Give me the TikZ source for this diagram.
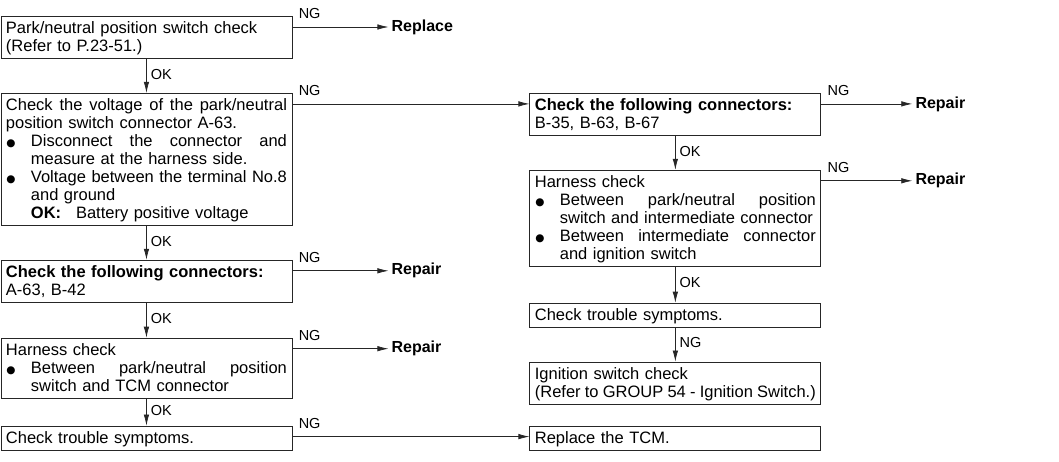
\documentclass[tikz,border=0pt]{standalone}
\usepackage{fontspec}
\setmainfont{Liberation Sans}
\newfontfamily\dotfont{DejaVu Sans}
\usepackage{xcolor}
\usetikzlibrary{arrows.meta,positioning}
\definecolor{inkgray}{HTML}{262626}
\newlength{\textwd}
\setlength{\textwd}{281pt}
\newlength{\bulindent}
\setlength{\bulindent}{25pt}
\newcommand{\spreadline}[1]{\makebox[\textwd][s]{\spaceskip=4.6pt plus 30pt minus 2pt #1}}
\newcommand{\bulmark}{\makebox[\bulindent][l]{\hspace{0.5pt}\raisebox{0.6pt}{\fontsize{10.5}{18}\dotfont ●}}}
\newcommand{\bulline}[1]{\bulmark\makebox[\dimexpr\textwd-\bulindent\relax][s]{\spaceskip=4.6pt plus 30pt minus 2pt #1}}
\newcommand{\subline}[1]{\hspace*{\bulindent}#1}

\begin{document}
\begin{tikzpicture}[node distance=34pt, >={Latex[length=11pt,width=5.5pt]}]
\tikzstyle{box}=[draw=inkgray, line width=0.9pt, text width=\textwd, inner xsep=5pt, inner ysep=3pt, align=left, font=\fontsize{16.5}{18}\selectfont, execute at begin node={\rule{0pt}{14.5pt}}, execute at end node={\rule[-3.5pt]{0pt}{3.5pt}}]
\tikzstyle{result}=[font=\fontsize{16}{18}\selectfont\bfseries, inner sep=3pt]
\tikzstyle{oklbl}=[right, pos=0.45, inner sep=4pt, font=\fontsize{14.5}{16}\selectfont]
\tikzstyle{nglbl}=[pos=0, anchor=south west, inner sep=0pt, xshift=6pt, yshift=8pt, font=\fontsize{14.5}{16}\selectfont]
\tikzstyle{link}=[->, line width=0.7pt, draw=inkgray]
\useasboundingbox (0,0) rectangle (1059pt,-462pt);
\node[box, anchor=north west] (pn) at (0.5pt,-16pt) {Park/neutral position switch check\\(Refer to P.23-51.)};
\node[box, below=of pn] (volt) {\spreadline{Check the voltage of the park/neutral}\\position switch connector A-63.\\\bulline{Disconnect the connector and}\\\subline{measure at the harness side.}\\\bulline{Voltage between the terminal No.8}\\\subline{and ground}\\\subline{\textbf{OK:}\hspace{0.9em}Battery positive voltage}};
\node[box, below=of volt] (conA) {\textbf{Check the following connectors:}\\A-63, B-42};
\node[box, below=35pt of conA] (harA) {Harness check\\\bulline{Between park/neutral position}\\\subline{switch and TCM connector}};
\node[box, below=27pt of harA] (symA) {Check trouble symptoms.};
\node[box, anchor=north west] (conB) at ([xshift=237pt]volt.north east) {\textbf{Check the following connectors:}\\B-35, B-63, B-67};
\node[box, below=of conB] (harB) {Harness check\\\bulline{Between park/neutral position}\\\subline{switch and intermediate connector}\\\bulline{Between intermediate connector}\\\subline{and ignition switch}};
\node[box, below=36pt of harB] (symB) {Check trouble symptoms.};
\node[box, below=of symB] (ign) {Ignition switch check\\\spreadline{(Refer to GROUP 54 - Ignition Switch.)}};
\node[box] (tcm) at (conB |- symA) {Replace the TCM.};
\coordinate (ng1) at ([yshift=-11pt]pn.north east);
\coordinate (ng2) at ([yshift=-11pt]volt.north east);
\coordinate (ng3) at ([yshift=-11pt]conA.north east);
\coordinate (ng4) at ([yshift=-11pt]harA.north east);
\coordinate (ng5) at ([yshift=-11pt]symA.north east);
\coordinate (ng6) at ([yshift=-11pt]conB.north east);
\coordinate (ng7) at ([yshift=-11pt]harB.north east);
\node[result, right=96pt of ng1] (rpl) {Replace};
\node[result, right=96pt of ng3] (rep1) {Repair};
\node[result, right=96pt of ng4] (rep2) {Repair};
\node[result, right=91pt of ng6] (rep3) {Repair};
\node[result, right=91pt of ng7] (rep4) {Repair};
\draw[link] (pn) -- node[oklbl] {OK} (volt);
\draw[link] (volt) -- node[oklbl] {OK} (conA);
\draw[link] (conA) -- node[oklbl] {OK} (harA);
\draw[link] (harA) -- node[oklbl] {OK} (symA);
\draw[link] (conB) -- node[oklbl] {OK} (harB);
\draw[link] (harB) -- node[oklbl] {OK} (symB);
\draw[link] (symB) -- node[oklbl] {NG} (ign);
\draw[link] (ng1) -- node[nglbl] {NG} (rpl);
\draw[link] (ng2) -- node[nglbl] {NG} (ng2 -| conB.west);
\draw[link] (ng3) -- node[nglbl] {NG} (rep1);
\draw[link] (ng4) -- node[nglbl] {NG} (rep2);
\draw[link] (ng5) -- node[nglbl] {NG} (ng5 -| tcm.west);
\draw[link] (ng6) -- node[nglbl] {NG} (rep3);
\draw[link] (ng7) -- node[nglbl] {NG} (rep4);
\end{tikzpicture}
\end{document}
